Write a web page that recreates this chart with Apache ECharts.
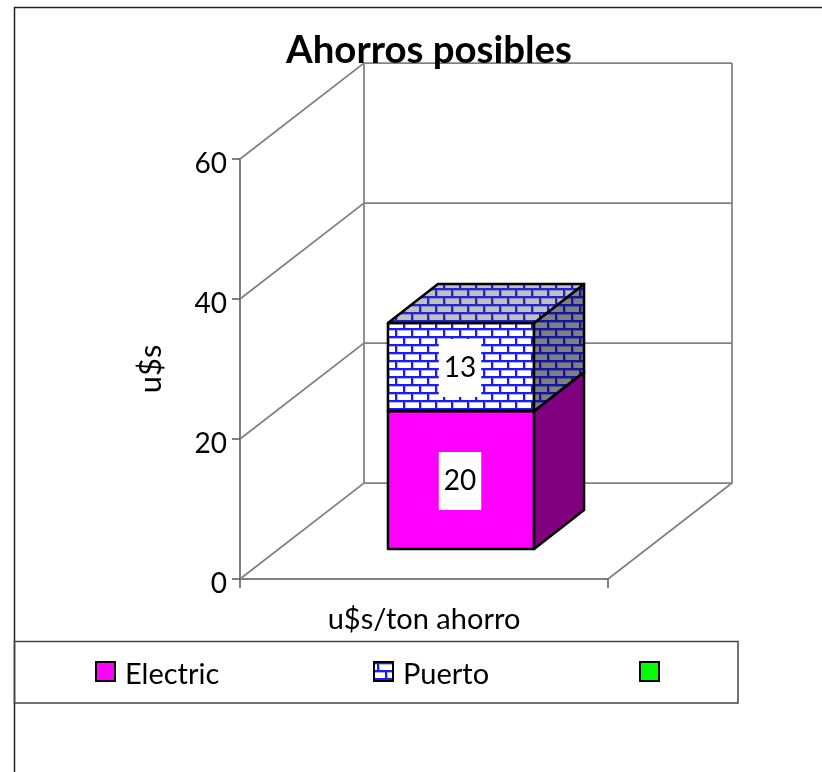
<!DOCTYPE html>
<html>
<head>
<meta charset="utf-8">
<title>Ahorros posibles</title>
<script src="https://cdn.jsdelivr.net/npm/echarts@6/dist/echarts.min.js"></script>
<style>
html, body { margin: 0; padding: 0; background: #fff; }
#chart { width: 822px; height: 772px; }
</style>
</head>
<body>
<div id="chart"></div>
<script>
var categories = ['u$s/ton ahorro'];
var electric = [19.7];
var puerto = [12.6];
var blank = [0];
var yTicks = [0, 20, 40, 60];

var FONT = 'Lato';
// 3d look: how far the back wall sits from the front plane, and where the bar sits in that depth
var DEPTH = [124, -96];
var BAR_FRONT = [37, -30];
var BAR_DEPTH = [50, -39];
var BAR_WIDTH = 0.397;

function brick(mortar, soft, fill) {
	var c = document.createElement('canvas');
	c.width = 16;
	c.height = 16;
	var g = c.getContext('2d');
	g.fillStyle = fill;
	g.fillRect(0, 0, 16, 16);
	// soft edge first so the hard mortar sits over it
	g.fillStyle = soft;
	g.fillRect(0, 2, 16, 1);
	g.fillRect(0, 10, 16, 1);
	g.fillRect(5, 0, 1, 8);
	g.fillRect(13, 8, 1, 8);
	g.fillStyle = mortar;
	g.fillRect(0, 0, 16, 2);
	g.fillRect(0, 8, 16, 2);
	g.fillRect(3, 0, 2, 8);
	g.fillRect(11, 8, 2, 8);
	return { image: c, repeat: 'repeat' };
}

var brickFront = brick('#1c1cf4', '#b4b4ff', '#ffffff');
var brickTop = brick('#2424c8', '#8888c0', '#c0c0c0');
var brickSide = brick('#16169c', '#50508c', '#808080');

function face(points, fill) {
	return {
		type: 'polygon',
		shape: { points: points },
		style: { fill: fill, stroke: '#000', lineWidth: 2.5, lineJoin: 'round' }
	};
}

// one stacked block, base is the sum of the series under it
function block(values, bases, colors) {
	return function (params, api) {
		var i = api.value(0);
		var base = bases[i];
		var val = values[i];
		var bottom = api.coord([i, base]);
		var top = api.coord([i, base + val]);
		var half = api.size([1, 0])[0] * BAR_WIDTH / 2;
		var l = bottom[0] - half + BAR_FRONT[0];
		var r = bottom[0] + half + BAR_FRONT[0];
		var b = bottom[1] + BAR_FRONT[1];
		var t = top[1] + BAR_FRONT[1];
		var dx = BAR_DEPTH[0];
		var dy = BAR_DEPTH[1];
		return {
			type: 'group',
			children: [
				face([[l, t], [r, t], [r, b], [l, b]], colors[0]),
				face([[r, t], [r + dx, t + dy], [r + dx, b + dy], [r, b]], colors[1]),
				face([[l, t], [l + dx, t + dy], [r + dx, t + dy], [r, t]], colors[2]),
				{
					type: 'text',
					style: {
						text: String(Math.round(val)),
						x: (l + r) / 2 - 1,
						y: (t + b) / 2 + 1,
						align: 'center',
						verticalAlign: 'middle',
						fontFamily: FONT,
						fontSize: 28,
						fill: '#000',
						backgroundColor: '#fff',
						padding: [15, 5, 15, 5]
					}
				}
			]
		};
	};
}

function renderGrid(params, api) {
	var v = api.value(0);
	var p = api.coord([0, v]);
	var w = api.size([1, 0])[0];
	var x0 = p[0] - w / 2;
	var line = [[x0, p[1]], [x0 + DEPTH[0], p[1] + DEPTH[1]], [x0 + DEPTH[0] + w, p[1] + DEPTH[1]]];
	var kids = [{
		type: 'polyline',
		shape: { points: line },
		style: { fill: 'none', stroke: '#828282', lineWidth: 1.75 }
	}];
	if (v === 0) {
		// floor front edge and the upright edges of the back wall
		var top = api.coord([0, yTicks[yTicks.length - 1]])[1] + DEPTH[1];
		kids.push({
			type: 'polyline',
			shape: { points: [[x0 + w, p[1]], [x0 + w + DEPTH[0], p[1] + DEPTH[1]], [x0 + w + DEPTH[0], top]] },
			style: { fill: 'none', stroke: '#828282', lineWidth: 1.75 }
		});
		kids.push({
			type: 'line',
			shape: { x1: x0 + DEPTH[0], y1: p[1] + DEPTH[1], x2: x0 + DEPTH[0], y2: top },
			style: { stroke: '#828282', lineWidth: 1.75 }
		});
	}
	return { type: 'group', children: kids };
}

var bases1 = electric.map(function () { return 0; });
var bases2 = electric.slice();

var legendBase = {
	orient: 'horizontal',
	top: 655,
	itemWidth: 19,
	itemHeight: 19,
	icon: 'rect',
	selectedMode: false,
	formatter: '{t|{name}}',
	textStyle: {
		fontFamily: FONT,
		fontSize: 29,
		color: '#000',
		padding: [0, 0, 0, 5],
		rich: { t: { fontFamily: FONT, fontSize: 29, color: '#000', padding: [6, 0, 0, 0] } }
	}
};

function legendAt(left, name, color) {
	return Object.assign({}, legendBase, {
		left: left,
		data: [{ name: name, itemStyle: { color: color, borderColor: '#000', borderWidth: 2 } }]
	});
}

var chart = echarts.init(document.getElementById('chart'), null, { renderer: 'canvas' });

chart.setOption({
	animation: false,
	backgroundColor: '#fff',
	title: {
		text: 'Ahorros posibles',
		left: 424,
		top: 27,
		textAlign: 'center',
		textStyle: { fontFamily: FONT, fontSize: 38.4, fontWeight: 'bold', color: '#000' }
	},
	legend: [
		legendAt(90, 'Electric', '#ff00ff'),
		legendAt(368, 'Puerto', brickFront),
		legendAt(634, ' ', '#00ff00')
	],
	grid: { left: 240, top: 159, width: 368, height: 420 },
	xAxis: {
		type: 'category',
		data: categories,
		axisLine: { lineStyle: { color: '#555', width: 1.5 } },
		axisTick: { show: true, length: 9, lineStyle: { color: '#555', width: 1.5 } },
		axisLabel: { fontFamily: FONT, fontSize: 29, color: '#000', margin: 26 }
	},
	yAxis: {
		type: 'value',
		min: 0,
		max: 60,
		interval: 20,
		name: 'u$s',
		nameLocation: 'middle',
		nameRotate: 90,
		nameGap: 74,
		nameTextStyle: { fontFamily: FONT, fontSize: 31, color: '#000' },
		axisLine: { show: true, lineStyle: { color: '#555', width: 1.5 } },
		axisTick: { show: true, length: 8, lineStyle: { color: '#555', width: 1.5 } },
		axisLabel: { fontFamily: FONT, fontSize: 28, color: '#000', margin: 13, verticalAlign: 'top', lineHeight: 10 },
		splitLine: { show: false }
	},
	graphic: [
		{
			type: 'polyline',
			silent: true,
			shape: { points: [[14.5, 772], [14.5, 7.5], [822, 7.5]] },
			style: { fill: 'none', stroke: '#222', lineWidth: 1.5 }
		},
		{
			type: 'rect',
			silent: true,
			shape: { x: 14.5, y: 641.5, width: 723.5, height: 61.5 },
			style: { fill: 'none', stroke: '#444', lineWidth: 1.5 }
		}
	],
	series: [
		{
			name: 'grid',
			type: 'custom',
			silent: true,
			data: yTicks.map(function (v) { return [v]; }),
			encode: { y: 0 },
			renderItem: renderGrid,
			z: 1
		},
		{
			name: 'Electric',
			type: 'custom',
			data: electric.map(function (v, i) { return [i, v]; }),
			encode: { x: 0, y: 1 },
			itemStyle: { color: '#ff00ff' },
			renderItem: block(electric, bases1, ['#ff00ff', '#800080', '#c000c0']),
			z: 2
		},
		{
			name: 'Puerto',
			type: 'custom',
			data: puerto.map(function (v, i) { return [i, v]; }),
			encode: { x: 0, y: 1 },
			itemStyle: { color: brickFront },
			renderItem: block(puerto, bases2, [brickFront, brickSide, brickTop]),
			z: 3
		},
		{
			name: ' ',
			type: 'custom',
			data: blank.map(function (v, i) { return [i, v]; }),
			encode: { x: 0, y: 1 },
			itemStyle: { color: '#00ff00' },
			renderItem: function () { return null; },
			z: 4
		}
	]
});
</script>
</body>
</html>
